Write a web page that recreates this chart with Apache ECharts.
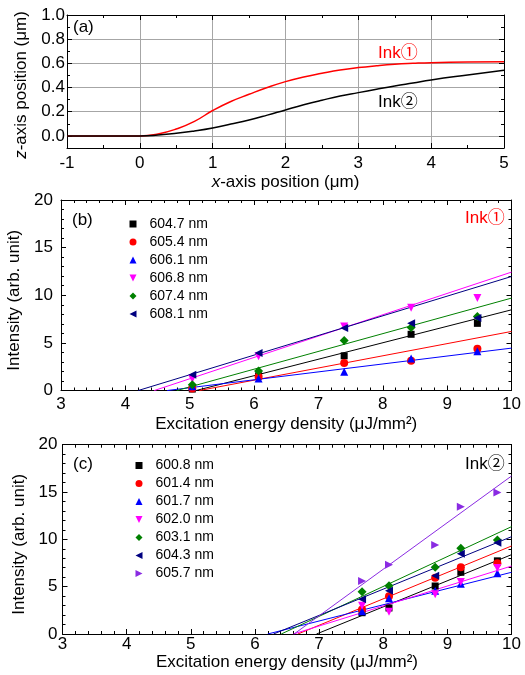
<!DOCTYPE html>
<html>
<head>
<meta charset="utf-8">
<script src="https://cdn.jsdelivr.net/npm/echarts@6/dist/echarts.min.js"></script>
<style>
  html, body { margin: 0; padding: 0; background: #fff; }
  #chart { width: 525px; height: 675px; }
</style>
</head>
<body>
<div id="chart"></div>
<script>
// ---------- (a) surface profiles ----------
const profileX   = [-1, -0.5, 0, 0.25, 0.5, 0.75, 1, 1.25, 1.5, 1.75, 2, 2.25, 2.5, 2.75, 3, 3.25, 3.5, 3.75, 4, 4.5, 5];
const ink1Height = [0, 0, 0, 0.016, 0.057, 0.12, 0.21, 0.285, 0.344, 0.4, 0.449, 0.488, 0.518, 0.545, 0.565, 0.58, 0.592, 0.6, 0.606, 0.612, 0.614];
const ink2Height = [0, 0, 0, 0.007, 0.021, 0.041, 0.066, 0.098, 0.132, 0.172, 0.215, 0.257, 0.295, 0.33, 0.358, 0.386, 0.413, 0.438, 0.463, 0.504, 0.543];
const profileYTicks = [0, 0.2, 0.4, 0.6, 0.8, 1.0];

// ---------- (b) Ink 1 emission intensity ----------
const energyB = [5.04, 6.07, 7.40, 8.44, 9.47];
const peaksB = ['604.7 nm', '605.4 nm', '606.1 nm', '606.8 nm', '607.4 nm', '608.1 nm'];
const intensityB_6047 = [0.15, 1.54, 3.64, 5.90, 7.05];
const intensityB_6054 = [0.20, 1.45, 2.90, 3.12, 4.38];
const intensityB_6061 = [0.45, 1.25, 1.96, 3.36, 4.13];
const intensityB_6068 = [1.20, 3.60, 6.72, 8.68, 9.70];
const intensityB_6074 = [0.60, 2.05, 5.25, 6.62, 7.77];
const intensityB_6081 = [1.65, 3.93, 6.55, 7.07, 7.60];
// linear fits: threshold energy (zero intensity) and value at 10 uJ/mm2
const fitOnsetB = [5.10, 5.15, 4.65, 4.45, 4.80, 4.20];
const fitEndB   = [8.47, 6.20, 4.45, 12.43, 9.70, 11.97];

// ---------- (c) Ink 2 emission intensity ----------
const energyC = [7.67, 8.09, 8.81, 9.21, 9.78];
const peaksC = ['600.8 nm', '601.4 nm', '601.7 nm', '602.0 nm', '603.1 nm', '604.3 nm', '605.7 nm'];
const intensityC_6008 = [2.25, 2.75, 5.07, 6.52, 7.73];
const intensityC_6014 = [2.58, 3.98, 5.95, 7.05, 7.47];
const intensityC_6017 = [2.40, 3.77, 4.58, 5.30, 6.41];
const intensityC_6020 = [2.98, 2.36, 4.19, 5.50, 6.97];
const intensityC_6031 = [4.47, 5.10, 7.04, 9.05, 9.93];
const intensityC_6043 = [3.68, 4.56, 6.16, 8.48, 9.63];
const intensityC_6057 = [5.60, 7.32, 9.40, 13.45, 14.95];
const fitOnsetC = [6.96, 6.67, 6.20, 6.60, 6.41, 6.29, 6.61];
const fitEndC   = [8.38, 9.30, 6.52, 7.18, 11.34, 10.28, 16.69];

const energyTicksMax = 10;

// ---------- styling ----------
const FONT = "'Liberation Sans', Arial, sans-serif";
const ICON_DOWN  = 'path://M0,0L10,0L5,10Z';
const ICON_LEFT  = 'path://M10,0L10,10L0,5Z';
const ICON_RIGHT = 'path://M0,0L10,5L0,10Z';
const markersB = [
  { color: '#000000', symbol: 'rect', rotate: 0, size: 7, icon: 'rect' },
  { color: '#ff0000', symbol: 'circle', rotate: 0, size: 8, icon: 'circle' },
  { color: '#0000ff', symbol: 'triangle', rotate: 0, size: 8, icon: 'triangle' },
  { color: '#ff00ff', symbol: 'triangle', rotate: 180, size: 8, icon: ICON_DOWN },
  { color: '#008000', symbol: 'diamond', rotate: 0, size: 9, icon: 'diamond' },
  { color: '#000080', symbol: 'triangle', rotate: 90, size: 8, icon: ICON_LEFT }
];
const markersC = markersB.concat([{ color: '#8a2be2', symbol: 'triangle', rotate: -90, size: 8, icon: ICON_RIGHT }]);

const seriesB = [intensityB_6047, intensityB_6054, intensityB_6061, intensityB_6068, intensityB_6074, intensityB_6081];
const seriesC = [intensityC_6008, intensityC_6014, intensityC_6017, intensityC_6020, intensityC_6031, intensityC_6043, intensityC_6057];

const tickStyle = { show: true, inside: true, length: 5, lineStyle: { color: '#000', width: 1 } };
const minorStyle = (n) => ({ show: true, splitNumber: n, length: 3, lineStyle: { color: '#000', width: 1 } });
const lineStyle = { show: true, onZero: false, lineStyle: { color: '#000', width: 1 } };
const labelStyle = (margin) => ({ fontSize: 17, color: '#000', fontFamily: FONT, margin: margin });

function frameX(gridIndex, min, max, interval, minorN, opts) {
  return Object.assign({
    type: 'value', gridIndex, min, max, interval,
    axisLine: lineStyle, axisTick: tickStyle, minorTick: minorStyle(minorN),
    splitLine: { show: false }, axisLabel: { show: false }
  }, opts);
}

const grids = [
  { left: 67, top: 15, width: 437, height: 133 },          // (a) data frame, -0.1..1.0
  { left: 67, top: 15, width: 437, height: 133 / 1.1 },    // (a) 0..1 tick scale
  { left: 61, top: 200, width: 450.5, height: 190.5 },     // (b)
  { left: 62.5, top: 444.7, width: 449, height: 189.3 }    // (c)
].map(g => Object.assign({ outerBoundsMode: 'none', containLabel: false }, g));

const titleStyle = { fontSize: 17, color: '#000', fontFamily: FONT };

const xAxes = [
  frameX(0, -1, 5, 1, 2, {
    position: 'bottom',
    axisLabel: labelStyle(7),
    splitLine: { show: true, lineStyle: { color: '#a6a6a6', width: 1 } },
    name: '{i|x}-axis position (\u03bcm)', nameLocation: 'middle', nameGap: 26,
    nameTextStyle: Object.assign({}, titleStyle, {
      rich: { i: { fontStyle: 'italic', fontSize: 17, fontFamily: FONT, color: '#000' } }
    })
  }),
  frameX(0, -1, 5, 1, 2, { position: 'top' }),
  { type: 'value', gridIndex: 1, min: -1, max: 5, show: false, axisLine: { show: false, onZero: false } },
  frameX(2, 3, energyTicksMax, 1, 5, {
    position: 'bottom', axisLabel: labelStyle(5),
    name: 'Excitation energy density (\u03bcJ/mm\u00b2)', nameLocation: 'middle', nameGap: 25,
    nameTextStyle: titleStyle
  }),
  frameX(2, 3, energyTicksMax, 1, 5, { position: 'top' }),
  frameX(3, 3, energyTicksMax, 1, 5, {
    position: 'bottom', axisLabel: labelStyle(2),
    name: 'Excitation energy density (\u03bcJ/mm\u00b2)', nameLocation: 'middle', nameGap: 17,
    nameTextStyle: titleStyle
  }),
  frameX(3, 3, energyTicksMax, 1, 5, { position: 'top' })
];

const yAxes = [
  {
    type: 'value', gridIndex: 0, min: -0.1, max: 1.0, position: 'left',
    axisLine: lineStyle, axisTick: { show: false }, axisLabel: { show: false }, splitLine: { show: false },
    name: '{i|z}-axis position (\u03bcm)', nameLocation: 'middle', nameGap: 37,
    nameTextStyle: Object.assign({}, titleStyle, {
      padding: [0, 7, 0, 0],
      rich: { i: { fontStyle: 'italic', fontSize: 17, fontFamily: FONT, color: '#000' } }
    })
  },
  {
    type: 'value', gridIndex: 0, min: -0.1, max: 1.0, position: 'right',
    axisLine: lineStyle, axisTick: { show: false }, axisLabel: { show: false }, splitLine: { show: false }
  },
  {
    type: 'value', gridIndex: 1, min: profileYTicks[0], max: profileYTicks[profileYTicks.length - 1],
    interval: profileYTicks[1] - profileYTicks[0], position: 'left',
    axisLine: { show: false, onZero: false }, axisTick: tickStyle, minorTick: minorStyle(2),
    splitLine: { show: true, lineStyle: { color: '#a6a6a6', width: 1 } },
    axisLabel: Object.assign(labelStyle(2), { formatter: v => v.toFixed(1) })
  },
  {
    type: 'value', gridIndex: 1, min: profileYTicks[0], max: profileYTicks[profileYTicks.length - 1],
    interval: profileYTicks[1] - profileYTicks[0], position: 'right',
    axisLine: { show: false, onZero: false }, axisTick: tickStyle, minorTick: minorStyle(2),
    splitLine: { show: false }, axisLabel: { show: false }
  },
  frameX(2, 0, 20, 5, 5, {
    position: 'left', axisLabel: labelStyle(8),
    name: 'Intensity (arb. unit)', nameLocation: 'middle', nameGap: 27,
    nameTextStyle: Object.assign({}, titleStyle, { padding: [0, 10, 0, 0] })
  }),
  frameX(2, 0, 20, 5, 5, { position: 'right' }),
  frameX(3, 0, 20, 5, 5, {
    position: 'left', axisLabel: labelStyle(5),
    name: 'Intensity (arb. unit)', nameLocation: 'middle', nameGap: 27,
    nameTextStyle: Object.assign({}, titleStyle, { padding: [0, 10, 0, 0] })
  }),
  frameX(3, 0, 20, 5, 5, { position: 'right' })
];

const series = [];

// (a) profiles
[[ink1Height, '#ff0000', 'Ink1 profile'], [ink2Height, '#000000', 'Ink2 profile']].forEach(([h, c, n]) => {
  series.push({
    type: 'line', name: n, xAxisIndex: 0, yAxisIndex: 0,
    data: profileX.map((x, i) => [x, h[i]]),
    smooth: 0.5, showSymbol: false, symbol: 'none',
    lineStyle: { color: c, width: 1.5 }, silent: true
  });
});

function addPanel(xIdx, yIdx, energy, names, values, markers, onset, end) {
  names.forEach((name, k) => {
    const m = markers[k];
    series.push({
      type: 'line', name: name + ' fit', xAxisIndex: xIdx, yAxisIndex: yIdx,
      data: [[onset[k], 0], [energyTicksMax, end[k]]],
      symbol: 'none', lineStyle: { color: m.color, width: 1 }, silent: true, z: 2
    });
  });
  names.forEach((name, k) => {
    const m = markers[k];
    series.push({
      type: 'scatter', name, xAxisIndex: xIdx, yAxisIndex: yIdx,
      data: energy.map((e, i) => [e, values[k][i]]),
      symbol: m.symbol, symbolRotate: m.rotate, symbolSize: m.size,
      itemStyle: { color: m.color, opacity: 1 }, silent: true, z: 3
    });
  });
}
addPanel(3, 4, energyB, peaksB, seriesB, markersB, fitOnsetB, fitEndB);
addPanel(5, 6, energyC, peaksC, seriesC, markersC, fitOnsetC, fitEndC);

const legendBase = {
  orient: 'vertical', itemWidth: 7, itemHeight: 7, itemGap: 4, selectedMode: false,
  textStyle: { fontSize: 14, lineHeight: 14, color: '#000', fontFamily: FONT, padding: [0, 0, 0, 8] }
};
const legendItems = (names, markers) => names.map((name, k) => ({
  name, icon: markers[k].icon, itemStyle: { color: markers[k].color }
}));

const textEl = (x, y, text, color) => ({
  type: 'text', x, y, silent: true,
  style: { text, fill: color || '#000', font: "17px " + FONT, verticalAlign: 'middle', align: 'left' }
});
const inkFont = "17px 'Liberation Sans', 'Noto Sans CJK JP', sans-serif";
const inkEl = (x, y, text, color) => ({
  type: 'text', x, y, silent: true,
  style: { text, fill: color, font: inkFont, verticalAlign: 'middle', align: 'left' }
});

const chart = echarts.init(document.getElementById('chart'), null, { renderer: 'canvas' });
chart.setOption({
  animation: false,
  backgroundColor: '#fff',
  textStyle: { fontFamily: FONT },
  grid: grids,
  xAxis: xAxes,
  yAxis: yAxes,
  legend: [
    Object.assign({}, legendBase, { data: legendItems(peaksB, markersB), left: 124.5, top: 212 }),
    Object.assign({}, legendBase, { data: legendItems(peaksC, markersC), left: 130.5, top: 453.5 })
  ],
  graphic: [
    textEl(73, 27, '(a)'),
    textEl(72, 220, '(b)'),
    textEl(73, 464, '(c)'),
    inkEl(378, 53, 'Ink\u2460', '#ff0000'),
    inkEl(378, 102, 'Ink\u2461', '#000000'),
    inkEl(465, 218, 'Ink\u2460', '#ff0000'),
    inkEl(465, 464, 'Ink\u2461', '#000000')
  ],
  series
});
</script>
</body>
</html>
